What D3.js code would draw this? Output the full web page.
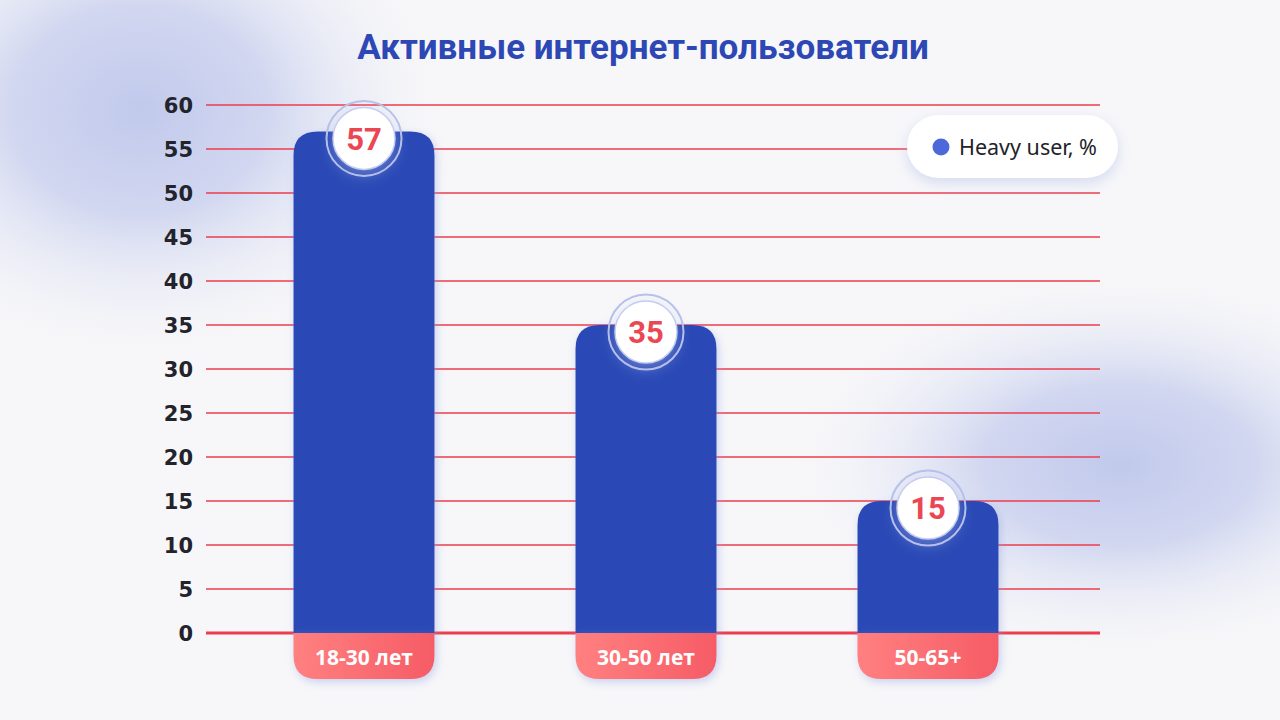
<!DOCTYPE html>
<html>
<head>
<meta charset="utf-8">
<script src="https://cdn.jsdelivr.net/npm/d3@7"></script>
<style>
  html, body { margin: 0; padding: 0; background: #f7f7f9; }
  #chart svg { display: block; }
</style>
</head>
<body>
<div id="chart"></div>
<script>
const title = "Активные интернет-пользователи"
const categories = ["18-30 лет", "30-50 лет", "50-65+"]
const heavyUser = [57, 35, 15]
const yTicks = [0, 5, 10, 15, 20, 25, 30, 35, 40, 45, 50, 55, 60]
const legendLabel = "Heavy user, %"

const width = 1280
const height = 720
const margin = { top: 105, right: 180, bottom: 87, left: 206 }

const svg = d3.select("div#chart").append("svg")
    .attr("width", width)
    .attr("height", height)

const defs = svg.append("defs")

// soft background blobs
const blob = defs.append("radialGradient").attr("id", "blob")
blob.append("stop").attr("offset", "0%").attr("stop-color", "#c1c9ec").attr("stop-opacity", 1)
blob.append("stop").attr("offset", "40%").attr("stop-color", "#c8cfee").attr("stop-opacity", 0.8)
blob.append("stop").attr("offset", "100%").attr("stop-color", "#f7f7f9").attr("stop-opacity", 0)

const pink = defs.append("linearGradient").attr("id", "pink")
    .attr("x1", "0%").attr("x2", "100%").attr("y1", "0%").attr("y2", "0%")
pink.append("stop").attr("offset", "0%").attr("stop-color", "#ff8080")
pink.append("stop").attr("offset", "100%").attr("stop-color", "#f65c66")

const shadow = defs.append("filter").attr("id", "shadow")
    .attr("x", "-30%").attr("y", "-30%").attr("width", "160%").attr("height", "160%")
shadow.append("feDropShadow").attr("dx", 2).attr("dy", 3).attr("stdDeviation", 4)
    .attr("flood-color", "#8e9fe0").attr("flood-opacity", 0.45)

const softShadow = defs.append("filter").attr("id", "softShadow")
    .attr("x", "-30%").attr("y", "-50%").attr("width", "160%").attr("height", "200%")
softShadow.append("feDropShadow").attr("dx", 0).attr("dy", 5).attr("stdDeviation", 7)
    .attr("flood-color", "#aab6e6").attr("flood-opacity", 0.45)

svg.append("rect").attr("width", width).attr("height", height).attr("fill", "#f7f7f9")
svg.append("ellipse").attr("cx", 140).attr("cy", 110).attr("rx", 320).attr("ry", 260)
    .attr("fill", "url(#blob)")
svg.append("ellipse").attr("cx", 1120).attr("cy", 465).attr("rx", 340).attr("ry", 200)
    .attr("fill", "url(#blob)")

// title
svg.append("text")
    .attr("x", 643).attr("y", 59)
    .attr("text-anchor", "middle")
    .attr("font-family", "Roboto")
    .attr("font-weight", 700)
    .attr("font-size", 35)
    .attr("fill", "#2d48b5")
    .text(title)

const x = d3.scaleBand()
    .domain(categories)
    .range([223, 1069])
    .paddingInner(0.5)
    .paddingOuter(0.25)

const y = d3.scaleLinear()
    .domain([0, 60])
    .range([height - margin.bottom, margin.top])

// grid + y axis
const yAxis = svg.append("g")
    .attr("transform", `translate(${margin.left},0)`)
    .call(d3.axisLeft(y).tickValues(yTicks).offset(0)
        .tickSize(-(1100 - margin.left)).tickPadding(13))

yAxis.select(".domain").remove()
yAxis.selectAll(".tick line")
    .style("stroke", "#ec3d4c")
    .style("stroke-width", d => d === 0 ? 3 : 1.6)
yAxis.selectAll(".tick text")
    .attr("font-family", "DejaVu Sans")
    .attr("font-weight", 700)
    .attr("font-size", 21)
    .style("fill", "#23232b")
    .attr("dy", "0.36em")

// bars
const r = 24
const footH = 46
const bars = svg.append("g").selectAll("g.bar")
    .data(categories.map((c, i) => ({ cat: c, value: heavyUser[i] })))
    .join("g")
    .attr("class", "bar")

function barPath(d) {
    const x0 = x(d.cat), x1 = x0 + x.bandwidth()
    const top = y(d.value), bot = y(0)
    return `M${x0},${bot} L${x0},${top + r} Q${x0},${top} ${x0 + r},${top}
            L${x1 - r},${top} Q${x1},${top} ${x1},${top + r} L${x1},${bot} Z`
}
function footPath(d) {
    const x0 = x(d.cat), x1 = x0 + x.bandwidth()
    const top = y(0), bot = y(0) + footH
    return `M${x0},${top} L${x1},${top} L${x1},${bot - r} Q${x1},${bot} ${x1 - r},${bot}
            L${x0 + r},${bot} Q${x0},${bot} ${x0},${bot - r} Z`
}

bars.append("path").attr("d", barPath).attr("fill", "#2c4ab6").attr("filter", "url(#shadow)")
bars.append("path").attr("d", footPath).attr("fill", "url(#pink)").attr("filter", "url(#shadow)")

bars.append("text")
    .attr("x", d => x(d.cat) + x.bandwidth() / 2)
    .attr("y", y(0) + footH / 2 + 1)
    .attr("dy", "0.36em")
    .attr("text-anchor", "middle")
    .attr("font-family", "Open Sans")
    .attr("font-weight", 700)
    .attr("font-size", 21)
    .attr("fill", "#ffffff")
    .text(d => d.cat)

// value badges
const badge = bars.append("g")
    .attr("transform", d => `translate(${x(d.cat) + x.bandwidth() / 2},${y(d.value) + 7})`)

badge.append("circle").attr("r", 37.5)
    .attr("fill", "none").attr("stroke", "#b7c1ea").attr("stroke-width", 2)
badge.append("circle").attr("r", 31)
    .attr("fill", "#ffffff").attr("stroke", "#c4cdf0").attr("stroke-width", 1.5)
    .attr("filter", "url(#softShadow)")
badge.append("text")
    .attr("dy", "0.36em")
    .attr("text-anchor", "middle")
    .attr("font-family", "Roboto")
    .attr("font-weight", 700)
    .attr("font-size", 31)
    .attr("fill", "#ea4753")
    .text(d => d.value)

// legend
const legend = svg.append("g").attr("transform", "translate(907,115)")
legend.append("rect")
    .attr("width", 211).attr("height", 63).attr("rx", 31.5)
    .attr("fill", "#ffffff")
    .attr("filter", "url(#softShadow)")
legend.append("circle").attr("cx", 34).attr("cy", 32).attr("r", 8.5).attr("fill", "#4d68d8")
legend.append("text")
    .attr("x", 52).attr("y", 32)
    .attr("dy", "0.36em")
    .attr("font-family", "Noto Sans")
    .attr("font-size", 21.5)
    .attr("fill", "#222228")
    .text(legendLabel)
</script>
</body>
</html>
